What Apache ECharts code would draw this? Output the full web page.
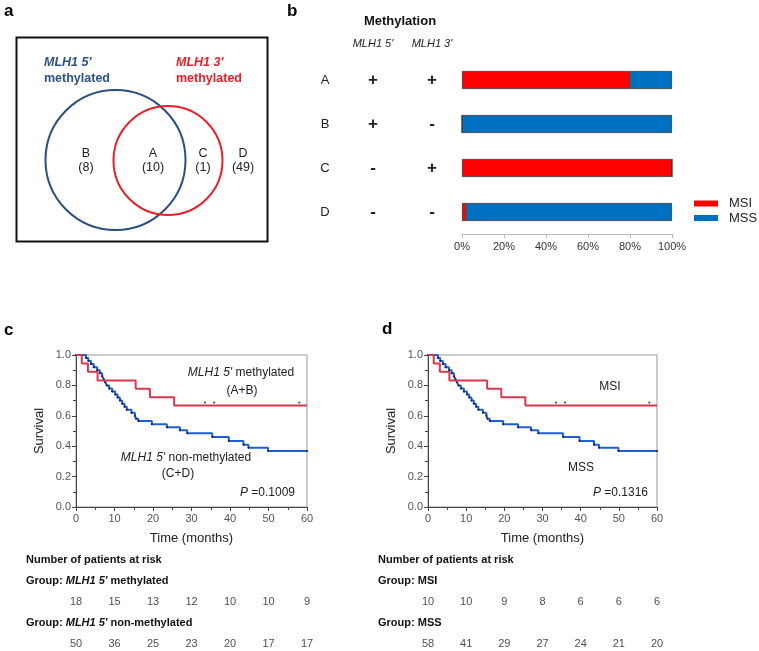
<!DOCTYPE html>
<html><head><meta charset="utf-8">
<script src="https://cdn.jsdelivr.net/npm/echarts@6/dist/echarts.min.js"></script>
<style>html,body{margin:0;padding:0;background:#fff}#c{width:759px;height:651px}</style>
</head><body><div id="c"></div><script>
const FONT = '"Liberation Sans", Arial, Helvetica, sans-serif';

// ---- Panel a: Venn regions and counts
const vennGroups = ['B', 'A', 'C', 'D'];
const vennCounts = [8, 10, 1, 49];

// ---- Panel b: methylation status and MSI / MSS proportions (%)
const methGroups = ['A', 'B', 'C', 'D'];
const meth5 = ['+', '+', '-', '-'];
const meth3 = ['+', '-', '+', '-'];
const msiPct = [80, 0, 100, 2];
const mssPct = [20, 100, 0, 98];

// ---- Panel c: Kaplan-Meier, MLH1 5' methylated vs non-methylated
const metTimes = [0, 1.5, 3.1, 5.6, 15.5, 19.2, 25.5, 60];
const metSurv  = [1, 0.944, 0.889, 0.833, 0.778, 0.722, 0.667, 0.667];
const metCensor = [33.5, 35.9, 58];
const nonTimes = [0, 2.6, 3.2, 3.9, 4.6, 5.5, 6.2, 6.8, 7.2, 7.6, 8.0, 8.6, 9.4, 10.2, 10.8, 11.4, 12.0, 12.6, 13.2, 14.4, 15.3, 15.6, 16.2, 19.7, 23.6, 27.0, 28.9, 35.4, 39.7, 43.5, 44.8, 49.9, 60];
const nonSurv  = [1, 0.98, 0.96, 0.94, 0.92, 0.90, 0.88, 0.86, 0.84, 0.82, 0.80, 0.78, 0.76, 0.74, 0.72, 0.70, 0.68, 0.66, 0.64, 0.62, 0.60, 0.58, 0.565, 0.545, 0.525, 0.505, 0.485, 0.46, 0.435, 0.41, 0.39, 0.368, 0.368];
const riskTimes = [0, 10, 20, 30, 40, 50, 60];
const riskMet = [18, 15, 13, 12, 10, 10, 9];
const riskNon = [50, 36, 25, 23, 20, 17, 17];

// ---- Panel d: Kaplan-Meier, MSI vs MSS
const msiTimes = [0, 1.5, 3.1, 5.6, 15.5, 19.2, 25.5, 60];
const msiSurv  = [1, 0.944, 0.889, 0.833, 0.778, 0.722, 0.667, 0.667];
const msiCensor = [33.5, 35.9, 58];
const mssTimes = [0, 2.6, 3.2, 3.9, 4.6, 5.5, 6.2, 6.8, 7.2, 7.6, 8.0, 8.6, 9.4, 10.2, 10.8, 11.4, 12.0, 12.6, 13.2, 14.4, 15.3, 15.6, 16.2, 19.7, 23.6, 27.0, 28.9, 35.4, 39.7, 43.5, 44.8, 49.9, 60];
const mssSurv  = [1, 0.98, 0.96, 0.94, 0.92, 0.90, 0.88, 0.86, 0.84, 0.82, 0.80, 0.78, 0.76, 0.74, 0.72, 0.70, 0.68, 0.66, 0.64, 0.62, 0.60, 0.58, 0.565, 0.545, 0.525, 0.505, 0.485, 0.46, 0.435, 0.41, 0.39, 0.368, 0.368];
const riskMsi = [10, 10, 9, 8, 6, 6, 6];
const riskMss = [58, 41, 29, 27, 24, 21, 20];

const RED = '#d43a4e', BLUE = '#1f5fd0';
const zip = (t, s) => t.map((v, i) => [v, s[i]]);

function kmX(gi) {
  return {
    gridIndex: gi, type: 'value', min: 0, max: 60, interval: 10,
    name: 'Time (months)', nameLocation: 'middle', nameGap: 25,
    nameTextStyle: { fontFamily: FONT, fontSize: 13, color: '#222' },
    axisLine: { show: true, lineStyle: { color: '#444', width: 1 } },
    axisTick: { show: true, length: 4, lineStyle: { color: '#444' } },
    minorTick: { show: true, splitNumber: 2, length: 3, lineStyle: { color: '#444' } },
    axisLabel: { fontFamily: FONT, fontSize: 11, color: '#555', margin: 6 },
    splitLine: { show: false }
  };
}
function kmY(gi) {
  return {
    gridIndex: gi, type: 'value', min: 0, max: 1, interval: 0.2,
    name: 'Survival', nameLocation: 'middle', nameGap: 30, nameRotate: 90,
    nameTextStyle: { fontFamily: FONT, fontSize: 13, color: '#222' },
    axisLine: { show: true, lineStyle: { color: '#444', width: 1 } },
    axisTick: { show: true, length: 4, lineStyle: { color: '#444' } },
    minorTick: { show: true, splitNumber: 2, length: 3, lineStyle: { color: '#444' } },
    axisLabel: { fontFamily: FONT, fontSize: 11, color: '#555', margin: 5, formatter: v => v.toFixed(1) },
    splitLine: { show: false }
  };
}
function hidden(gi, max) {
  return { gridIndex: gi, type: 'value', min: 0, max: max, show: false };
}
function kmLine(name, t, s, color, xi, yi, dots) {
  return {
    name: name, type: 'line', step: 'end', xAxisIndex: xi, yAxisIndex: yi,
    data: zip(t, s), showSymbol: dots, symbol: 'circle', symbolSize: 2,
    itemStyle: { color: '#1a1a3a' }, lineStyle: { color: color, width: 2 },
    silent: true, animation: false, z: dots ? 3 : 4
  };
}
function censor(t, s, xi, yi) {
  return {
    type: 'scatter', xAxisIndex: xi, yAxisIndex: yi,
    data: t.map(v => [v, s]), symbol: 'circle', symbolSize: 2.2, symbolOffset: [0, -3],
    itemStyle: { color: '#222' }, silent: true, animation: false
  };
}
function risk(vals, yv, xi, yi) {
  return {
    type: 'scatter', xAxisIndex: xi, yAxisIndex: yi, symbolSize: 1,
    data: riskTimes.map((t, i) => [t, yv, vals[i]]),
    itemStyle: { color: 'rgba(0,0,0,0)' },
    label: { show: true, position: 'inside', formatter: p => p.value[2], fontFamily: FONT, fontSize: 11, color: '#222' },
    silent: true, animation: false
  };
}
function txt(x, y, text, opt) {
  opt = opt || {};
  return {
    type: 'text', x: x, y: y, silent: true,
    style: Object.assign({
      text: text, fill: opt.fill || '#222', textAlign: opt.align || 'left', textVerticalAlign: 'middle',
      fontFamily: FONT, fontSize: opt.size || 12, fontWeight: opt.weight || 'normal', fontStyle: opt.style || 'normal'
    }, opt.rich ? { rich: opt.rich } : {})
  };
}

const rowAxis = (off, fmt, size, weight) => ({
  gridIndex: 0, type: 'category', data: methGroups, inverse: true, position: 'left', offset: off,
  axisLine: { show: false }, axisTick: { show: false },
  axisLabel: { margin: 0, align: 'center', fontFamily: FONT, fontSize: size, fontWeight: weight, color: '#222', formatter: fmt }
});

const vennX = [86, 153, 203, 243];
const graphics = [
  txt(4, 11, 'a', { size: 17, weight: 'bold', fill: '#000' }),
  txt(287, 11, 'b', { size: 17, weight: 'bold', fill: '#000' }),
  txt(4, 330, 'c', { size: 17, weight: 'bold', fill: '#000' }),
  txt(382, 329, 'd', { size: 17, weight: 'bold', fill: '#000' }),
  { type: 'rect', shape: { x: 16.5, y: 37.5, width: 251, height: 204 }, style: { fill: 'none', stroke: '#111', lineWidth: 2 }, silent: true },
  { type: 'circle', shape: { cx: 115.5, cy: 160, r: 70 }, style: { fill: 'none', stroke: '#2a4f80', lineWidth: 2 }, silent: true },
  { type: 'circle', shape: { cx: 168, cy: 160.5, r: 54.5 }, style: { fill: 'none', stroke: '#e52229', lineWidth: 2 }, silent: true },
  txt(44, 63, "MLH1 5'", { size: 12.5, weight: 'bold', style: 'italic', fill: '#2d5288' }),
  txt(44, 79, 'methylated', { size: 12.5, weight: 'bold', fill: '#2d5288' }),
  txt(176, 63, "MLH1 3'", { size: 12.5, weight: 'bold', style: 'italic', fill: '#e8202a' }),
  txt(176, 79, 'methylated', { size: 12.5, weight: 'bold', fill: '#e8202a' }),
  txt(400, 21, 'Methylation', { size: 13, weight: 'bold', align: 'center', fill: '#111' }),
  txt(373, 44, "MLH1 5'", { size: 11, style: 'italic', align: 'center', fill: '#222' }),
  txt(432, 44, "MLH1 3'", { size: 11, style: 'italic', align: 'center', fill: '#222' }),
  // panel c annotations
  txt(241, 373, "{i|MLH1 5'}{n| methylated}", { align: 'center', rich: { i: { fontFamily: FONT, fontSize: 12, fontStyle: 'italic', fill: '#222' }, n: { fontFamily: FONT, fontSize: 12, fill: '#222' } } }),
  txt(242, 391, '(A+B)', { align: 'center' }),
  txt(186, 458, "{i|MLH1 5'}{n| non-methylated}", { align: 'center', rich: { i: { fontFamily: FONT, fontSize: 12, fontStyle: 'italic', fill: '#222' }, n: { fontFamily: FONT, fontSize: 12, fill: '#222' } } }),
  txt(178, 474, '(C+D)', { align: 'center' }),
  txt(295, 493, '{i|P}{n| =0.1009}', { align: 'right', rich: { i: { fontFamily: FONT, fontSize: 12, fontStyle: 'italic', fill: '#222' }, n: { fontFamily: FONT, fontSize: 12, fill: '#222' } } }),
  // panel d annotations
  txt(610, 387, 'MSI', { align: 'center' }),
  txt(581, 468, 'MSS', { align: 'center' }),
  txt(648, 493, '{i|P}{n| =0.1316}', { align: 'right', rich: { i: { fontFamily: FONT, fontSize: 12, fontStyle: 'italic', fill: '#222' }, n: { fontFamily: FONT, fontSize: 12, fill: '#222' } } }),
  // risk tables
  txt(26, 560, 'Number of patients at risk', { size: 11, weight: 'bold', fill: '#111' }),
  txt(26, 581, "{b|Group: }{bi|MLH1 5'}{b| methylated}", { rich: { b: { fontFamily: FONT, fontSize: 11, fontWeight: 'bold', fill: '#111' }, bi: { fontFamily: FONT, fontSize: 11, fontWeight: 'bold', fontStyle: 'italic', fill: '#111' } } }),
  txt(26, 623, "{b|Group: }{bi|MLH1 5'}{b| non-methylated}", { rich: { b: { fontFamily: FONT, fontSize: 11, fontWeight: 'bold', fill: '#111' }, bi: { fontFamily: FONT, fontSize: 11, fontWeight: 'bold', fontStyle: 'italic', fill: '#111' } } }),
  txt(378, 560, 'Number of patients at risk', { size: 11, weight: 'bold', fill: '#111' }),
  txt(378, 581, 'Group: MSI', { size: 11, weight: 'bold', fill: '#111' }),
  txt(378, 623, 'Group: MSS', { size: 11, weight: 'bold', fill: '#111' })
];
vennGroups.forEach((g, i) => {
  graphics.push(txt(vennX[i], 154, g, { align: 'center', size: 12.5 }));
  graphics.push(txt(vennX[i], 168, '(' + vennCounts[i] + ')', { align: 'center', size: 12.5 }));
});

const option = {
  animation: false,
  backgroundColor: '#fff',
  textStyle: { fontFamily: FONT },
  legend: {
    data: ['MSI', 'MSS'], orient: 'vertical', left: 694, top: 197, padding: 0,
    icon: 'rect', itemWidth: 24, itemHeight: 6, itemGap: 1.5,
    itemStyle: { borderWidth: 0 },
    textStyle: { fontFamily: FONT, fontSize: 13, color: '#222', lineHeight: 13, padding: [0, 0, 0, 6] },
    selectedMode: false
  },
  grid: [
    { left: 462, top: 58, width: 210, height: 176 },
    { left: 76, top: 355, width: 231, height: 152, show: true, borderColor: '#999', borderWidth: 1 },
    { left: 428, top: 355, width: 229, height: 152, show: true, borderColor: '#999', borderWidth: 1 },
    { left: 76, top: 602, width: 231, height: 42 },
    { left: 428, top: 602, width: 229, height: 42 }
  ],
  xAxis: [
    {
      gridIndex: 0, type: 'value', min: 0, max: 100, interval: 20,
      axisLine: { show: true, lineStyle: { color: '#bbb' } },
      axisTick: { show: true, length: 4, lineStyle: { color: '#bbb' } },
      axisLabel: { fontFamily: FONT, fontSize: 11, color: '#333', margin: 7, formatter: v => v + '%' },
      splitLine: { show: false }
    },
    kmX(1), kmX(2), hidden(3, 60), hidden(4, 60)
  ],
  yAxis: [
    rowAxis(137, v => v, 13, 'normal'),
    rowAxis(89, (v, i) => meth5[i], 17, 'bold'),
    rowAxis(30, (v, i) => meth3[i], 17, 'bold'),
    kmY(1), kmY(2), hidden(3, 1), hidden(4, 1)
  ],
  series: [
    { name: 'MSI', type: 'bar', stack: 'm', xAxisIndex: 0, yAxisIndex: 0, data: msiPct, barWidth: 18,
      itemStyle: { color: '#ff0000', borderColor: '#333', borderWidth: 0.8 } },
    { name: 'MSS', type: 'bar', stack: 'm', xAxisIndex: 0, yAxisIndex: 0, data: mssPct, barWidth: 18,
      itemStyle: { color: '#0070c0', borderColor: '#333', borderWidth: 0.8 } },
    kmLine('non-methylated', nonTimes, nonSurv, BLUE, 1, 3, true),
    kmLine('methylated', metTimes, metSurv, RED, 1, 3, false),
    censor(metCensor, metSurv[metSurv.length - 1], 1, 3),
    kmLine('MSS KM', mssTimes, mssSurv, BLUE, 2, 4, true),
    kmLine('MSI KM', msiTimes, msiSurv, RED, 2, 4, false),
    censor(msiCensor, msiSurv[msiSurv.length - 1], 2, 4),
    risk(riskMet, 1, 3, 5), risk(riskNon, 0, 3, 5),
    risk(riskMsi, 1, 4, 6), risk(riskMss, 0, 4, 6)
  ],
  graphic: graphics
};
const chart = echarts.init(document.getElementById('c'), null, { renderer: 'canvas' });
chart.setOption(option);
</script></body></html>
